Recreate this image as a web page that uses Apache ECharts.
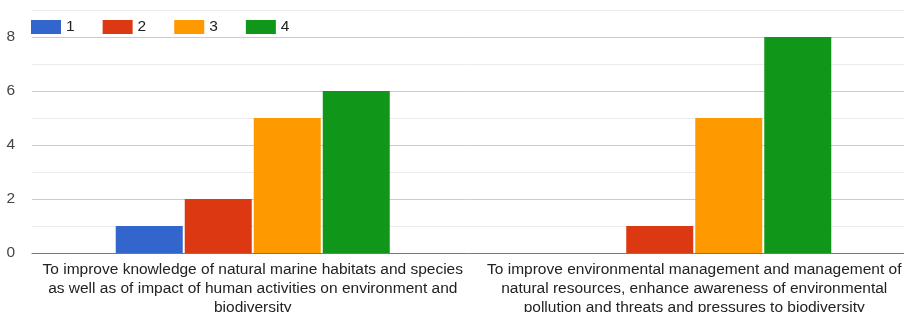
<!DOCTYPE html>
<html>
<head>
<meta charset="utf-8">
<title></title>
<script type="text/javascript" src="https://cdn.jsdelivr.net/npm/echarts@6/dist/echarts.min.js"></script>
</head>
<body style="margin:0">

<div id="main" style="width: 904px;height:312px;"></div>

<script type="text/javascript">

let CATEGORIES = [
	'To improve knowledge of natural marine habitats and species\nas well as of impact of human activities on environment and\nbiodiversity',
	'To improve environmental management and management of\nnatural resources, enhance awareness of environmental\npollution and threats and pressures to biodiversity'
];
let SERIES_NAMES = ['1', '2', '3', '4'];
let VALUES_1 = [1, 0];
let VALUES_2 = [2, 1];
let VALUES_3 = [5, 5];
let VALUES_4 = [6, 8];
let COLORS = ['#3366cc', '#dc3912', '#ff9900', '#109618'];

let allValues = [VALUES_1, VALUES_2, VALUES_3, VALUES_4];
let FONT = 'Liberation Sans, Arial, sans-serif';

var myChart = echarts.init(document.getElementById('main'));

var option = {
	animation: false,
	color: COLORS,
	textStyle: { fontFamily: FONT },
	legend: {
		left: 26,
		top: 14,
		itemWidth: 30,
		itemHeight: 14,
		itemGap: 28,
		icon: 'rect',
		textStyle: { fontSize: 15.5, color: '#222', fontFamily: FONT },
		data: SERIES_NAMES
	},
	grid: { left: 32, right: -11, top: 10, bottom: 59, containLabel: false, outerBoundsMode: 'none' },
	xAxis: {
		type: 'category',
		data: CATEGORIES,
		axisTick: { show: false },
		axisLine: { lineStyle: { color: '#777', width: 1 } },
		axisLabel: {
			interval: 0,
			margin: 7,
			fontSize: 15.5,
			lineHeight: 19,
			color: '#222',
			fontFamily: FONT
		}
	},
	yAxis: {
		type: 'value',
		min: 0,
		max: 9,
		interval: 1,
		axisLine: { show: false },
		axisTick: { show: false },
		axisLabel: {
			margin: 17,
			fontSize: 15.5,
			color: '#444',
			fontFamily: FONT,
			formatter: (v) => (v % 2 === 0 ? String(v) : '')
		},
		splitLine: { lineStyle: { color: ['#cccccc', '#ebebeb'], width: 1 } }
	},
	series: SERIES_NAMES.map((name, i) => ({
		name: name,
		type: 'bar',
		data: allValues[i],
		barWidth: 67,
		barGap: '3%',
		itemStyle: { color: COLORS[i] }
	}))
};

myChart.setOption(option);

</script>

</body>
</html>
